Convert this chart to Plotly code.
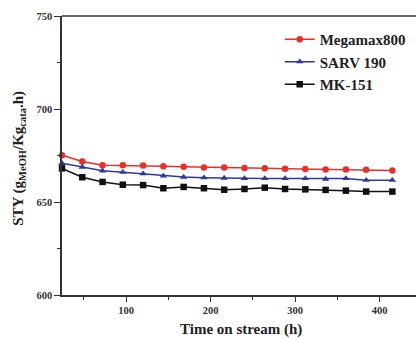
import plotly.graph_objects as go

time_h = [24, 48, 72, 96, 120, 144, 168, 192, 216, 240, 264, 288, 312, 336, 360, 384, 415]
megamax800 = [675.1, 671.8, 669.8, 669.7, 669.6, 669.2, 668.9, 668.6, 668.5, 668.3, 668.1, 667.9, 667.8, 667.5, 667.5, 667.3, 667.0]
sarv190 = [670.8, 668.8, 666.8, 666.0, 665.2, 664.0, 663.4, 663.1, 662.9, 662.7, 662.7, 662.7, 662.7, 662.3, 662.7, 661.7, 661.7]
mk151 = [668.1, 663.3, 660.8, 659.3, 659.1, 657.4, 658.1, 657.4, 656.6, 657.0, 657.7, 657.0, 656.8, 656.5, 656.1, 655.6, 655.6]

series = [
    ("Megamax800", megamax800, "#e8302a", "circle"),
    ("SARV 190", sarv190, "#2b3a9c", "triangle-up"),
    ("MK-151", mk151, "#111111", "square"),
]

fig = go.Figure()
for name, vals, color, sym in series:
    fig.add_trace(go.Scatter(
        x=time_h, y=vals, name=name, mode="lines+markers",
        line=dict(color=color, width=1.5),
        marker=dict(symbol=sym, size=6.5, color=color),
        cliponaxis=False,
    ))

font_family = "Liberation Serif"
fig.update_layout(
    width=416, height=339,
    margin=dict(l=62, r=0, t=16, b=44, autoexpand=False),
    paper_bgcolor="white", plot_bgcolor="white",
    font=dict(family=font_family, color="#333333", weight="bold"),
    showlegend=True,
    legend=dict(
        x=0.615, y=0.975, xanchor="left", yanchor="top",
        font=dict(family=font_family, size=15, color="#222222", weight="bold"),
        bgcolor="rgba(0,0,0,0)", tracegroupgap=0, itemwidth=30,
    ),
    xaxis=dict(
        range=[24, 443], tickvals=[100, 200, 300, 400], automargin=False,
        showline=True, linecolor="#333333", linewidth=1.5,
        ticks="outside", ticklen=5, tickwidth=1.2, tickcolor="#333333",
        minor=dict(tickvals=[50, 150, 250, 350], ticks="outside", ticklen=3, tickcolor="#333333"),
        showgrid=False, zeroline=False,
        tickfont=dict(size=10.5, family=font_family, weight="bold"),
    ),
    yaxis=dict(
        range=[600, 750], tickvals=[600, 650, 700, 750], automargin=False,
        showline=True, linecolor="#333333", linewidth=1.5,
        ticks="outside", ticklen=6, tickwidth=1.2, tickcolor="#333333",
        minor=dict(tickvals=[625, 675, 725], ticks="outside", ticklen=3, tickcolor="#333333"),
        showgrid=False, zeroline=False,
        tickfont=dict(size=10.5, family=font_family, weight="bold"),
    ),
    shapes=[dict(type="line", xref="paper", yref="paper", x0=0, x1=1, y0=1, y1=1,
                 line=dict(color="#333333", width=1.5))],
    annotations=[
        dict(text="Time on stream (h)", xref="paper", yref="paper", x=0.505, y=-0.125,
             xanchor="center", yanchor="middle", showarrow=False,
             font=dict(size=15, family=font_family, color="#222222", weight="bold")),
        dict(text="STY (g<sub>MeOH</sub>/Kg<sub>cata</sub>.h)", xref="paper", yref="paper",
             x=-0.12, y=0.49, xanchor="center", yanchor="middle", showarrow=False, textangle=-90,
             font=dict(size=15, family=font_family, color="#222222", weight="bold")),
    ],
)

fig.write_html("out.html", config={"displayModeBar": False},
               post_script="document.body.style.margin='0';document.body.style.overflow='hidden';")
